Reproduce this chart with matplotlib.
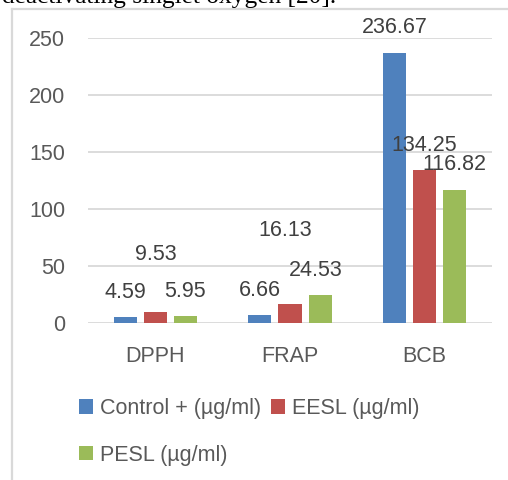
import numpy as np
import matplotlib
matplotlib.use("Agg")
import matplotlib.pyplot as plt
from matplotlib.lines import Line2D

# data
categories = ["DPPH", "FRAP", "BCB"]
series_names = ["Control + (\u00b5g/ml)", "EESL (\u00b5g/ml)", "PESL (\u00b5g/ml)"]
control = [4.59, 6.66, 236.67]
eesl = [9.53, 16.13, 134.25]
pesl = [5.95, 24.53, 116.82]
colors = ["#4F81BD", "#C0504D", "#9BBB59"]

# where the (hand placed) value labels sit, offset from bar top in pixels
label_offsets = [
    [(0, 25), (0, 25), (0, 25)],      # control
    [(0, 57), (-5, 74), (0, 24)],     # eesl
    [(0, 24), (-4, 24), (0, 25)],     # pesl
]

W, H = 508, 480
fig = plt.figure(figsize=(W / 100, H / 100), dpi=100)
plt.rcParams['font.family'] = ['Liberation Sans', 'DejaVu Sans']
txt = "#595959"
fs = 15.5

# cut-off line of text above the chart
fig.text(2 / W, 1 - 3 / H, "deactivating singlet oxygen [20].", family="Liberation Serif",
         fontsize=18.3, color="black", va="baseline", ha="left")

# chart frame (only left and top edges visible)
fig.add_artist(Line2D([12 / W, 12 / W], [0, 1 - 9 / H], color="#D9D9D9", lw=1.6))
fig.add_artist(Line2D([12 / W, 1], [1 - 9 / H, 1 - 9 / H], color="#D9D9D9", lw=1.6))

ax = fig.add_axes([88 / W, 1 - 322.7 / H, (492 - 88) / W, (322.7 - 37.7) / H])
x = np.arange(len(categories))
width = 0.171
step = 0.223
all_series = [control, eesl, pesl]
bars = []
for i, vals in enumerate(all_series):
    b = ax.bar(x + (i - 1) * step, vals, width, color=colors[i], label=series_names[i], zorder=3)
    bars.append(b)
    for j, rect in enumerate(b):
        dx, dy = label_offsets[i][j]
        ax.annotate(f"{vals[j]:.2f}", (rect.get_x() + rect.get_width() / 2, rect.get_height()),
                    xytext=(dx, dy), textcoords="offset pixels", ha="center", va="center",
                    fontsize=fs, color="#404040", zorder=5)

ax.set_xlim(-0.5, 2.5)
ax.set_ylim(0, 250)
ax.set_yticks([0, 50, 100, 150, 200, 250])
ax.set_xticks(x)
ax.set_xticklabels(categories)
ax.yaxis.grid(True, color="#D9D9D9", lw=1.3, zorder=0)
for s in ax.spines.values():
    s.set_visible(False)
ax.tick_params(axis="both", length=0, labelsize=fs, labelcolor=txt)
ax.tick_params(axis="y", pad=16.5)
ax.tick_params(axis="x", pad=17)

handles = [bars[0], bars[2], bars[1]]
labels = [series_names[0], series_names[2], series_names[1]]
fig.legend(handles, labels, ncol=2, loc="upper left", bbox_to_anchor=(79 / W, 1 - 398 / H),
           frameon=False, fontsize=fs, labelcolor=txt, handlelength=0.67, handleheight=0.65,
           handletextpad=0.3, columnspacing=0.45, labelspacing=1.2, borderaxespad=0, borderpad=0)

fig.savefig("out.png", dpi=100)
